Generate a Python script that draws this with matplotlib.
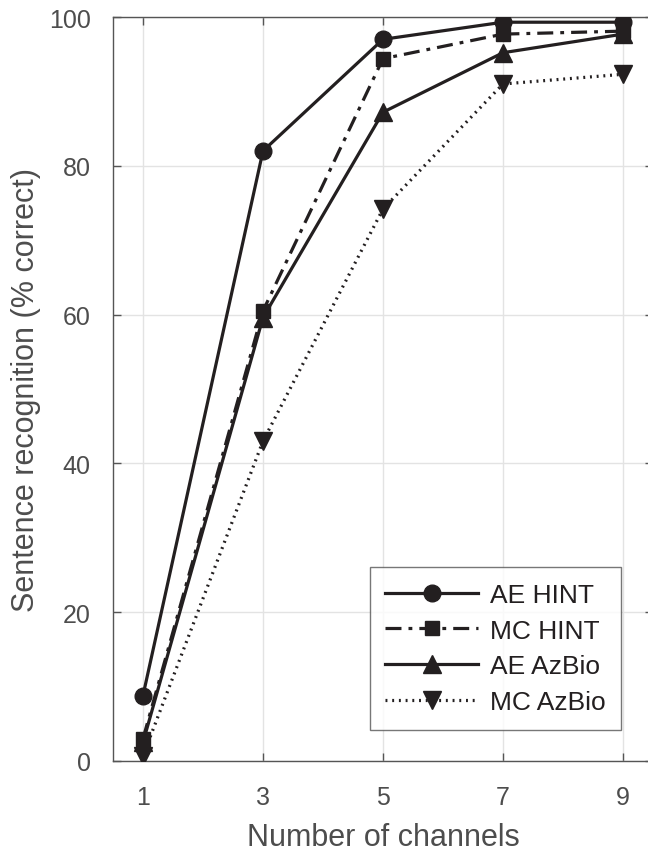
"""
Sentence recognition vs. number of channels (MATLAB-style line chart).
"""

import matplotlib
matplotlib.use("Agg")
import matplotlib.pyplot as plt

plt.rcParams['font.family'] = ['Liberation Sans', 'DejaVu Sans']

channels = [1, 3, 5, 7, 9]
ae_hint = [8.8, 82.0, 97.0, 99.3, 99.3]
mc_hint = [3.0, 60.5, 94.4, 97.7, 98.1]
ae_azbio = [2.5, 59.6, 87.2, 95.2, 97.7]
mc_azbio = [0.7, 43.0, 74.2, 91.0, 92.3]

ink = '#231f20'
axis_gray = '#4d4d4d'

fig = plt.figure(figsize=(6.48, 8.54), dpi=100)
# axes right edge runs slightly past the figure, as in the cropped original
ax = fig.add_axes([113 / 648, 92 / 854, 540 / 648, 744 / 854])

ax.plot(channels, ae_hint, color=ink, lw=2.3, ls='-', marker='o', ms=12,
        label='AE HINT', zorder=4)
ax.plot(channels, mc_hint, color=ink, lw=2.3, ls=(0, (5, 2.2, 1.2, 2.2)),
        marker='s', ms=9.5, label='MC HINT', zorder=4)
ax.plot(channels, ae_azbio, color=ink, lw=2.3, ls='-', marker='^', ms=13,
        label='AE AzBio', zorder=4)
ax.plot(channels, mc_azbio, color=ink, lw=2.3, ls=(0, (0.6, 1.5)),
        marker='v', ms=13, label='MC AzBio', zorder=4)

ax.set_xlim(0.5, 9.5)
ax.set_ylim(0, 100)
ax.set_xticks(channels)
ax.set_yticks([0, 20, 40, 60, 80, 100])

ax.grid(True, color='#e3e3e3', lw=1.0, zorder=0)
ax.set_axisbelow(True)
for side in ax.spines.values():
    side.set_color('#555555')
    side.set_linewidth(1.0)
ax.tick_params(direction='in', length=6, width=1.0, color='#555555',
               labelcolor=axis_gray, labelsize=18, top=True, right=True)
ax.tick_params(axis='x', pad=17)
ax.tick_params(axis='y', pad=16)

ax.set_xlabel('Number of channels', fontsize=22, color=axis_gray, labelpad=10)
ax.set_ylabel('Sentence recognition (% correct)', fontsize=22,
              color=axis_gray, labelpad=6)

leg = ax.legend(loc='lower right', bbox_to_anchor=(0.941, 0.042),
                bbox_transform=ax.transAxes, fontsize=19, handlelength=3.5,
                frameon=True, fancybox=False, borderpad=0.6,
                labelspacing=0.44, handletextpad=0.45, borderaxespad=0)
leg.get_frame().set_edgecolor('#555555')
leg.get_frame().set_linewidth(1.0)
for txt in leg.get_texts():
    txt.set_color(ink)

fig.savefig('out.png', dpi=100)
